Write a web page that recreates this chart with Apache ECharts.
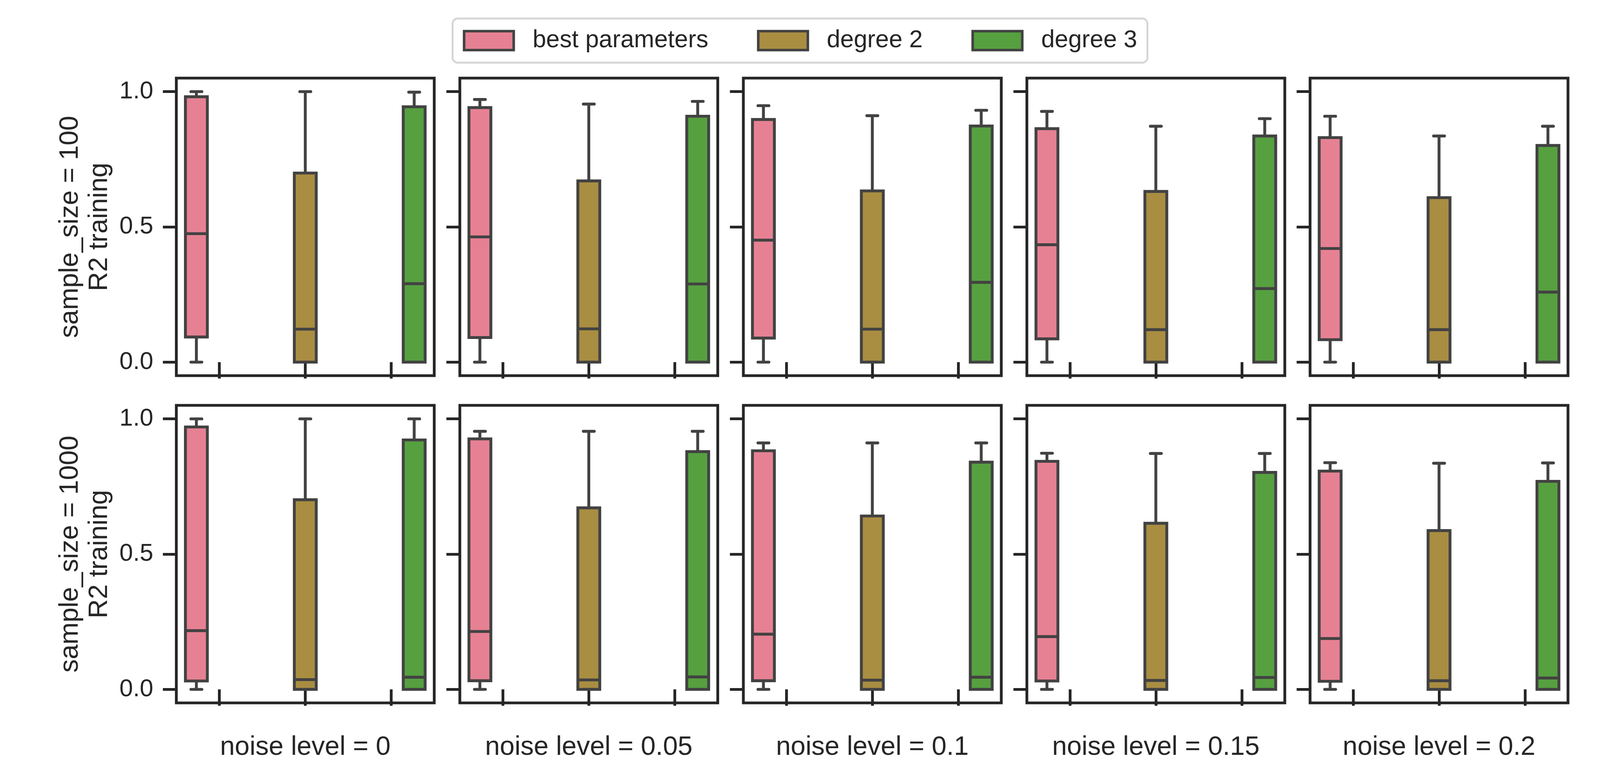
<!DOCTYPE html>
<html>
<head>
<meta charset="utf-8">
<title>R2 training by noise level</title>
<script src="https://cdn.jsdelivr.net/npm/echarts@6.0.0/dist/echarts.min.js"></script>
<style>
    html, body { margin: 0; padding: 0; background: #fff; overflow: hidden; }
    #chart { width: 100vw; height: 100vh; }
</style>
</head>
<body>
<div id="chart"></div>
<script type="text/javascript">
// panel columns / rows
var noiseLevels = ['0', '0.05', '0.1', '0.15', '0.2'];
var sampleSizes = ['100', '1000'];
var models = ['best parameters', 'degree 2', 'degree 3'];

// box stats per noise level: [min, q1, median, q3, max]
var best100 = [
    [0, 0.093, 0.475, 0.981, 1.000],
    [0, 0.091, 0.463, 0.941, 0.971],
    [0, 0.089, 0.451, 0.897, 0.948],
    [0, 0.086, 0.434, 0.863, 0.927],
    [0, 0.083, 0.420, 0.830, 0.909]
];
var deg2_100 = [
    [0, 0, 0.122, 0.699, 1.000],
    [0, 0, 0.123, 0.670, 0.954],
    [0, 0, 0.122, 0.633, 0.911],
    [0, 0, 0.120, 0.631, 0.872],
    [0, 0, 0.120, 0.608, 0.836]
];
var deg3_100 = [
    [0, 0, 0.290, 0.944, 0.998],
    [0, 0, 0.289, 0.909, 0.964],
    [0, 0, 0.295, 0.873, 0.931],
    [0, 0, 0.272, 0.836, 0.900],
    [0, 0, 0.259, 0.801, 0.872]
];
var best1000 = [
    [0, 0.031, 0.217, 0.970, 1.000],
    [0, 0.032, 0.214, 0.926, 0.954],
    [0, 0.032, 0.204, 0.882, 0.911],
    [0, 0.031, 0.195, 0.843, 0.873],
    [0, 0.030, 0.188, 0.807, 0.838]
];
var deg2_1000 = [
    [0, 0, 0.036, 0.701, 1.000],
    [0, 0, 0.035, 0.671, 0.954],
    [0, 0, 0.034, 0.641, 0.911],
    [0, 0, 0.033, 0.614, 0.872],
    [0, 0, 0.032, 0.587, 0.836]
];
var deg3_1000 = [
    [0, 0, 0.045, 0.922, 1.000],
    [0, 0, 0.046, 0.879, 0.954],
    [0, 0, 0.045, 0.840, 0.911],
    [0, 0, 0.044, 0.802, 0.872],
    [0, 0, 0.042, 0.769, 0.837]
];
var yTicks = [0, 0.5, 1.0];

var stats = [[best100, deg2_100, deg3_100], [best1000, deg2_1000, deg3_1000]];
var colors = ['#e68193', '#a98d41', '#56a040'];
var edge = '#424242';
var ink = '#262626';
var font = "'Liberation Sans', Arial, sans-serif";

// layout measured on a 5000x2000 canvas, stretched to the window
var sx = window.innerWidth / 5000;
var sy = window.innerHeight / 2000;
var s = Math.min(sx, sy);
var gridLeft = [551, 1437, 2323, 3209, 4094];
var gridTop = [200, 1038];

// seaborn style box: half width caps, dodged by hue
function makeRender(hue) {
    return function (params, api) {
        var cat = api.value(0);
        var band = api.size([1, 0])[0];
        var cx = api.coord([cat, 0])[0] + (hue - 1) * band * 0.2667;
        var w = band * 0.255;
        var y = [1, 2, 3, 4, 5].map(function (d) { return api.coord([cat, api.value(d)])[1]; });
        function line(x1, y1, x2, y2, cap) {
            return { type: 'line', shape: { x1: x1, y1: y1, x2: x2, y2: y2 },
                     style: { stroke: edge, lineWidth: 9 * s, lineCap: cap || 'butt' } };
        }
        return {
            type: 'group',
            children: [
                line(cx, y[3], cx, y[4]),
                line(cx, y[1], cx, y[0]),
                { type: 'rect', shape: { x: cx - w / 2, y: y[3], width: w, height: y[1] - y[3] },
                  style: { fill: colors[hue], stroke: edge, lineWidth: 9 * s } },
                line(cx - w / 2, y[2], cx + w / 2, y[2]),
                line(cx - w / 4, y[4], cx + w / 4, y[4], 'round'),
                line(cx - w / 4, y[0], cx + w / 4, y[0], 'round')
            ]
        };
    };
}

var grids = [], xAxes = [], yAxes = [], series = [];
sampleSizes.forEach(function (size, r) {
    noiseLevels.forEach(function (noise, c) {
        var idx = grids.length;
        grids.push({
            left: gridLeft[c] * sx, top: gridTop[r] * sy, width: 806 * sx, height: 762 * sy,
            show: true, borderColor: ink, borderWidth: 8.7 * s, backgroundColor: '#fff',
            containLabel: false, outerBoundsMode: 'none'
        });
        xAxes.push({
            gridIndex: idx, type: 'category', data: models,
            axisLine: { show: false },
            axisTick: { show: true, alignWithLabel: true, interval: 0, length: 42 * sy,
                        lineStyle: { color: ink, width: 8.7 * s } },
            axisLabel: { show: false },
            splitLine: { show: false },
            name: r === 1 ? 'noise level = ' + noise : '',
            nameLocation: 'middle', nameGap: 80 * sy,
            nameTextStyle: { fontSize: 83 * s, color: ink, fontFamily: font }
        });
        yAxes.push({
            gridIndex: idx, type: 'value', min: -0.05, max: 1.05,
            axisLine: { show: false },
            axisTick: { show: true, length: 42 * sx, customValues: yTicks,
                        lineStyle: { color: ink, width: 8.7 * s } },
            axisLabel: { show: c === 0, customValues: yTicks, margin: 72 * sx,
                         fontSize: 76 * s, color: ink, fontFamily: font,
                         formatter: function (v) { return v.toFixed(1); } },
            splitLine: { show: false },
            name: c === 0 ? 'sample_size = ' + size + '\nR2 training' : '',
            nameLocation: 'middle', nameRotate: 90, nameGap: 193 * sx,
            nameTextStyle: { fontSize: 83 * s, lineHeight: 92 * s, color: ink,
                             fontFamily: font, align: 'center' }
        });
        models.forEach(function (m, h) {
            series.push({
                type: 'custom', name: m, xAxisIndex: idx, yAxisIndex: idx,
                color: colors[h],
                encode: { x: 0, y: [1, 2, 3, 4, 5] },
                renderItem: makeRender(h),
                data: [[h].concat(stats[r][h][c])]
            });
        });
    });
});

var myChart = echarts.init(document.getElementById('chart'));
myChart.setOption({
    animation: false,
    textStyle: { fontFamily: font },
    legend: {
        left: 'center', top: 35 * sy + (138 * sy - 138 * s) / 2,
        padding: [25 * s, 32 * s, 25 * s, 32 * s],
        borderColor: '#d6d6d6', borderWidth: 6 * s, borderRadius: 16 * s,
        backgroundColor: '#fff',
        itemWidth: 155 * s, itemHeight: 59 * s, itemGap: 152 * s,
        icon: 'rect',
        itemStyle: { borderColor: edge, borderWidth: 8 * s },
        textStyle: { fontSize: 76 * s, lineHeight: 88 * s, color: ink, padding: [0, 0, 0, 53 * s] },
        data: models.map(function (m, h) { return { name: m, itemStyle: { color: colors[h] } }; })
    },
    grid: grids,
    xAxis: xAxes,
    yAxis: yAxes,
    series: series
});
</script>
</body>
</html>
